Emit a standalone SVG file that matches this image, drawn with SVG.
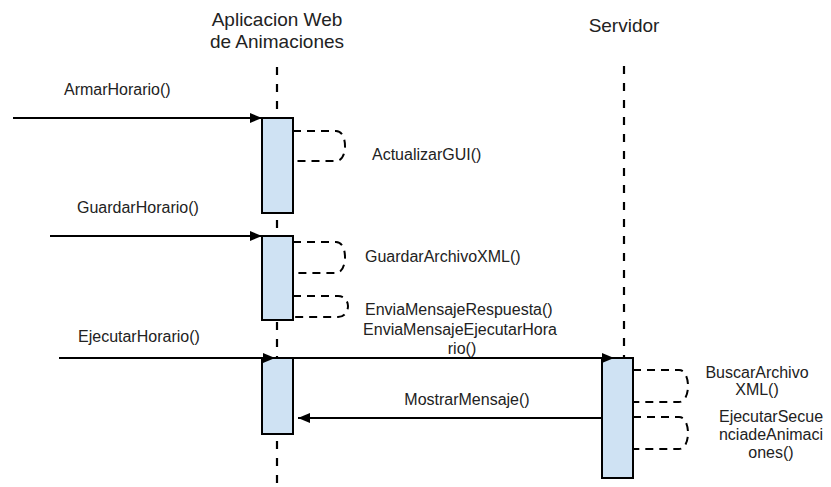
<svg xmlns="http://www.w3.org/2000/svg" width="831" height="487" viewBox="0 0 831 487">
<defs>
<marker id="ah" markerWidth="12" markerHeight="10" refX="12" refY="5" orient="auto" markerUnits="userSpaceOnUse">
<path d="M0,0 L12,5 L0,10 Z" fill="#000"/>
</marker>
<style>
.t{font-family:"Liberation Sans",Arial,sans-serif;font-size:16px;fill:#222}
.h{font-family:"Liberation Sans",Arial,sans-serif;font-size:19px;fill:#222}
.life{stroke:#000;stroke-width:2.2;stroke-dasharray:8,9;fill:none}
.act{fill:#cfe2f3;stroke:#000;stroke-width:2}
.msg{stroke:#000;stroke-width:2;fill:none;marker-end:url(#ah)}
.self{stroke:#000;stroke-width:2;fill:none;stroke-dasharray:8,6}
</style>
</defs>
<rect width="831" height="487" fill="#fff"/>
<g id="app">
<text class="h" x="277" y="26" text-anchor="middle">Aplicacion Web</text>
<text class="h" x="277" y="48" text-anchor="middle">de Animaciones</text>
<line class="life" x1="277" y1="67" x2="277" y2="484"/>
<rect class="act" x="262" y="118" width="31" height="95"/>
<rect class="act" x="262" y="236" width="31" height="84"/>
<rect class="act" x="262" y="358" width="31" height="76"/>
</g>
<g id="servidor">
<text class="h" x="624" y="32" text-anchor="middle">Servidor</text>
<line class="life" x1="624" y1="66" x2="624" y2="358"/>
<rect class="act" x="602" y="358" width="31" height="120"/>
</g>
<g id="connectors">
<line class="msg" x1="13" y1="118" x2="262" y2="118"/>
<line class="msg" x1="50" y1="236" x2="262" y2="236"/>
<line class="msg" x1="59" y1="358" x2="275" y2="358"/>
<line class="msg" x1="293" y1="358" x2="614" y2="358"/>
<line class="msg" x1="602" y1="418" x2="298" y2="418"/>
<path class="self" d="M293,131 H336 C343,131 345,140 345,146 C345,152 343,161 336,161 H293"/>
<path class="self" d="M293,242 H336 C343,242 345,251 345,257 C345,263 343,273 336,273 H293"/>
<path class="self" d="M293,296 H338 C345,296 348,302 348,306 C348,311 345,317 338,317 H293"/>
<path class="self" d="M633,370 H679 C686,370 688,380 688,386 C688,392 686,402 679,402 H633"/>
<path class="self" d="M633,417 H679 C686,417 688,427 688,433 C688,439 686,449 679,449 H633"/>
<text class="t" x="64" y="95">ArmarHorario()</text>
<text class="t" x="372" y="160">ActualizarGUI()</text>
<text class="t" x="77" y="213">GuardarHorario()</text>
<text class="t" x="365" y="262">GuardarArchivoXML()</text>
<text class="t" x="365" y="315">EnviaMensajeRespuesta()</text>
<text class="t" x="460" y="335" text-anchor="middle">EnviaMensajeEjecutarHora</text>
<text class="t" x="462" y="354" text-anchor="middle">rio()</text>
<text class="t" x="78" y="342">EjecutarHorario()</text>
<text class="t" x="467" y="405" text-anchor="middle">MostrarMensaje()</text>
<text class="t" x="757" y="378" text-anchor="middle">BuscarArchivo</text>
<text class="t" x="757" y="395" text-anchor="middle">XML()</text>
<text class="t" x="771" y="422" text-anchor="middle">EjecutarSecue</text>
<text class="t" x="771" y="440" text-anchor="middle">nciadeAnimaci</text>
<text class="t" x="771" y="458" text-anchor="middle">ones()</text>
</g>
</svg>
